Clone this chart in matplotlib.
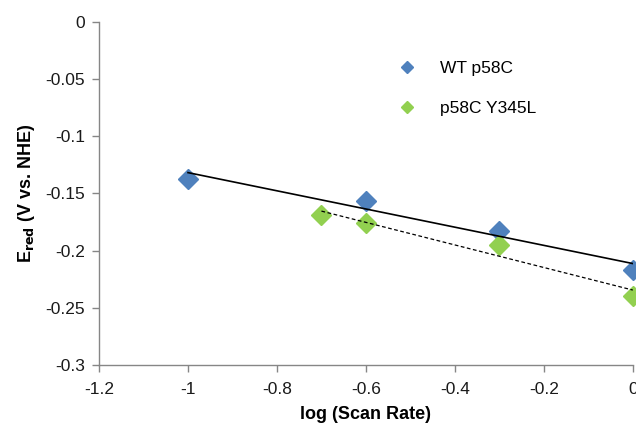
import numpy as np
import matplotlib
matplotlib.use("Agg")
import matplotlib.pyplot as plt

plt.rcParams['font.family'] = ['Liberation Sans', 'DejaVu Sans']

# data
wt_x = [-1.0, -0.6, -0.3, 0.0]
wt_y = [-0.137, -0.157, -0.183, -0.217]
mut_x = [-0.7, -0.6, -0.3, 0.0]
mut_y = [-0.169, -0.176, -0.195, -0.240]
labels = ['WT p58C', 'p58C Y345L']

blue = '#4F81BD'
green = '#92D050'
grey = '#868686'

fig = plt.figure(figsize=(6.36, 4.26), dpi=100)
ax = fig.add_axes([0.1557, 0.1432, 0.8393, 0.8052])

# linear trendlines
for xs, ys, ls in [(wt_x, wt_y, '-'), (mut_x, mut_y, '--')]:
    k, b = np.polyfit(xs, ys, 1)
    xx = np.array([min(xs), max(xs)])
    if ls == '-':
        ax.plot(xx, k * xx + b, color='black', linewidth=1.2, zorder=3)
    else:
        ax.plot(xx, k * xx + b, color='black', linewidth=0.9, dashes=(3, 2), zorder=3)

ax.plot(wt_x, wt_y, 'D', color=blue, markersize=10, label=labels[0], zorder=2, clip_on=False)
ax.plot(mut_x, mut_y, 'D', color=green, markersize=10, label=labels[1], zorder=2, clip_on=False)

ax.set_xlim(-1.2, 0)
ax.set_ylim(-0.3, 0)
ax.set_xticks(np.arange(-1.2, 0.01, 0.2))
ax.set_xticklabels(['-1.2', '-1', '-0.8', '-0.6', '-0.4', '-0.2', '0'])
ax.set_yticks(np.arange(-0.3, 0.001, 0.05))
ax.set_yticklabels(['-0.3', '-0.25', '-0.2', '-0.15', '-0.1', '-0.05', '0'])

for s in ['top', 'right']:
    ax.spines[s].set_visible(False)
for s in ['left', 'bottom']:
    ax.spines[s].set_color(grey)
    ax.spines[s].set_linewidth(1.0)
ax.tick_params(colors=grey, labelcolor='#1a1a1a', labelsize=12.5, length=5, width=1.0)
ax.tick_params(axis='x', pad=7)
ax.tick_params(axis='y', pad=5)

ax.set_xlabel('log (Scan Rate)', fontsize=13, fontweight='bold', labelpad=7)
ax.set_ylabel(r'E$_{\mathbf{red}}$ (V vs. NHE)', fontsize=13, fontweight='bold', labelpad=6)

leg = ax.legend(loc='upper left', bbox_to_anchor=(0.515, 0.932), frameon=False,
                fontsize=12.5, markerscale=0.6, handletextpad=0.9, labelspacing=1.45)

fig.savefig('out.png', dpi=100)
